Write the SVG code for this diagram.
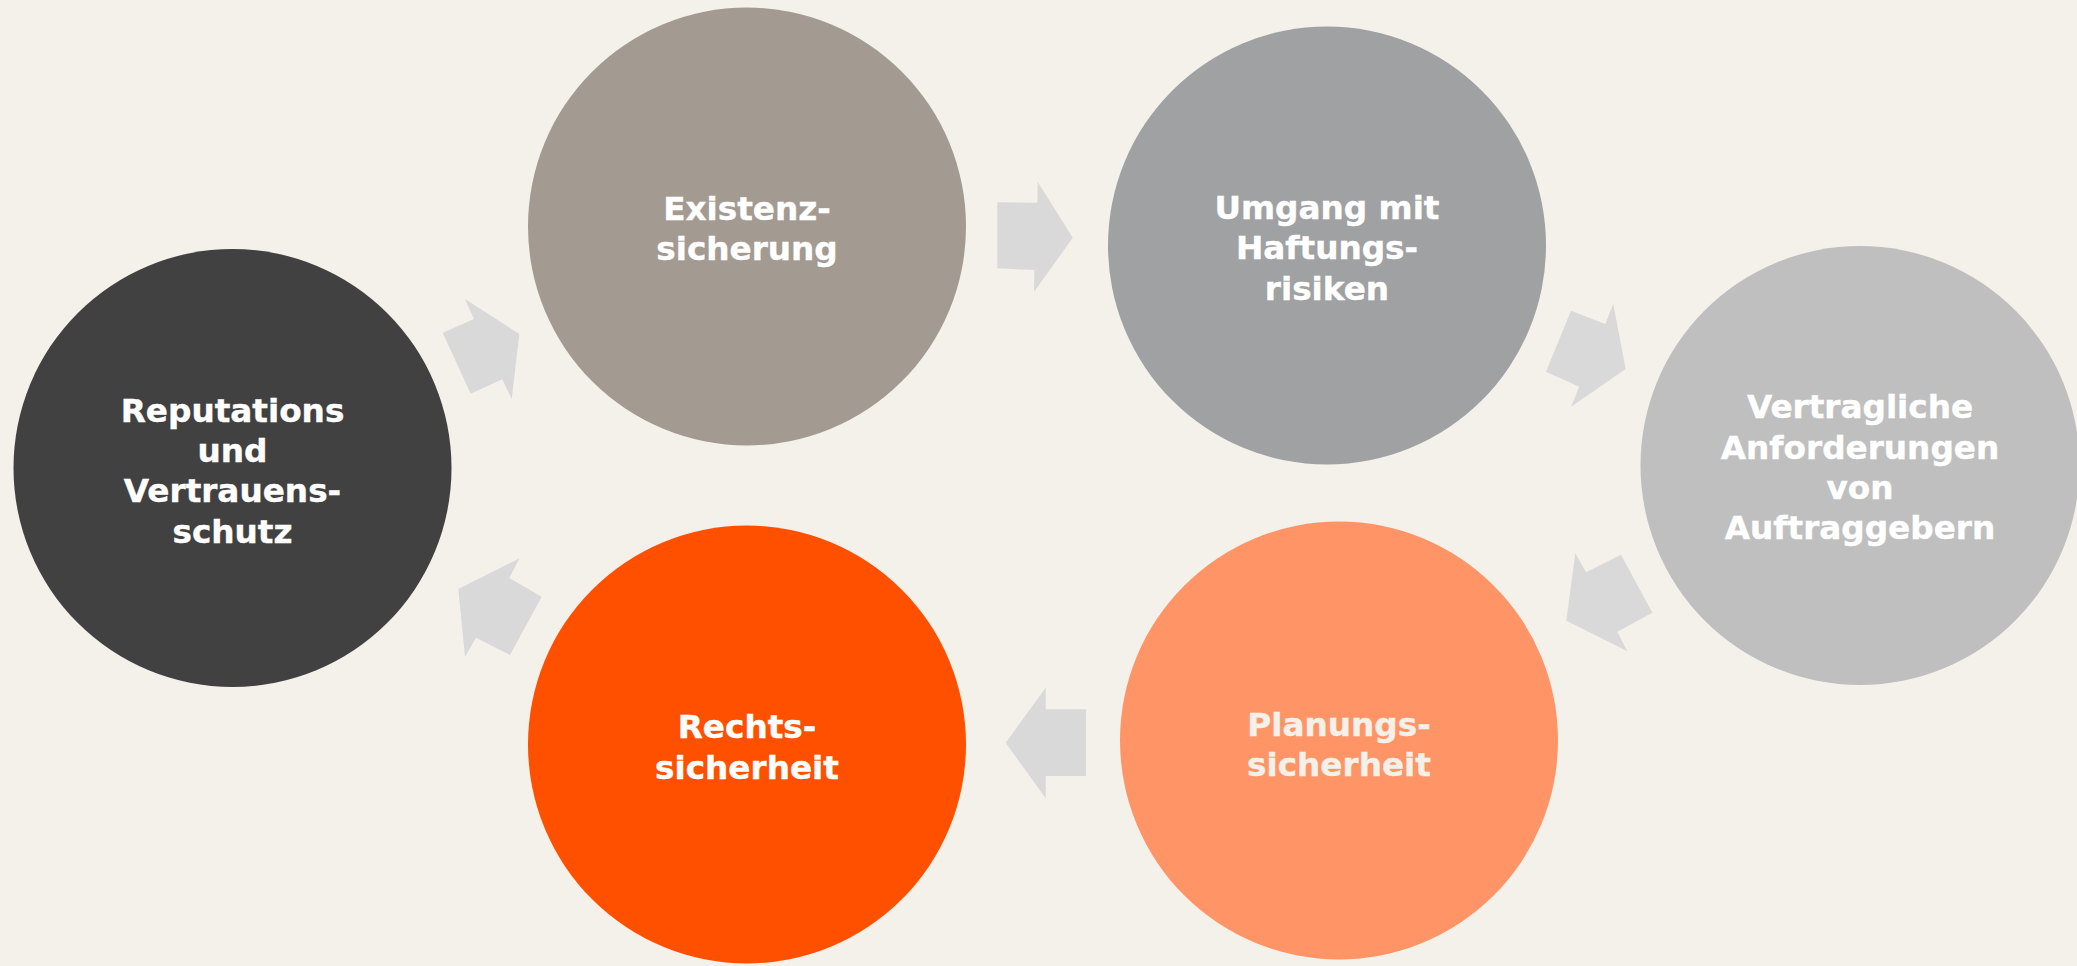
<svg xmlns="http://www.w3.org/2000/svg" width="2077" height="966" viewBox="0 0 2077 966">
<style>
.lbl{font-family:"DejaVu Sans","Verdana",sans-serif;font-weight:bold;font-size:32.7px;text-anchor:middle;fill:#FFFFFF;stroke:#FFFFFF;stroke-width:0.4}
.cream{fill:#F4F1EB;stroke:#F4F1EB}
.arr{fill:#D9D9D9}
</style>
<rect x="0" y="0" width="2077" height="966" fill="#F4F1EB"/>
<g id="connectors">
<polygon class="arr" points="442.7,332.7 474,319 465,299 519.3,334 511.7,399 502.3,379.3 470.7,393.7"/>
<polygon class="arr" points="997.3,202.3 1037.3,202.7 1037.7,181.7 1072.7,237.7 1034,292 1034.3,270 997.3,268.3"/>
<polygon class="arr" points="1571,310.7 1605.3,324 1613.3,304 1625.7,369 1571,406.7 1579.3,386.7 1546,371.7"/>
<polygon class="arr" points="1621,554.7 1652.3,612.7 1617.3,631.7 1627.3,651.3 1566.3,620.7 1575.3,553.3 1586,572.3"/>
<polygon class="arr" points="1086,709.3 1086,776 1045.7,776 1045.7,798.3 1005.7,742.7 1045.7,687.7 1045.7,709.3"/>
<polygon class="arr" points="458.3,589 465,656.7 476,637.7 510,655 541.7,596.7 509.3,578 519.3,558.4"/>
</g>
<g id="node-reputation">
<circle cx="232.5" cy="468" r="219" fill="#414141"/>
<text class="lbl" x="232.5" y="421.7">Reputations</text>
<text class="lbl" x="232.5" y="461.7">und</text>
<text class="lbl" x="232.5" y="501.7">Vertrauens-</text>
<text class="lbl" x="232.5" y="542.5">schutz</text>
</g>
<g id="node-existenz">
<circle cx="747" cy="226.5" r="219" fill="#A39A91"/>
<text class="lbl" x="747" y="220">Existenz-</text>
<text class="lbl" x="747" y="260">sicherung</text>
</g>
<g id="node-umgang">
<circle cx="1327" cy="245.5" r="219" fill="#A0A1A3"/>
<text class="lbl" x="1327" y="219">Umgang mit</text>
<text class="lbl" x="1327" y="259">Haftungs-</text>
<text class="lbl" x="1327" y="299.5">risiken</text>
</g>
<g id="node-vertragliche">
<circle cx="1860" cy="465.5" r="219.5" fill="#BFBFBF"/>
<text class="lbl" x="1860" y="418.3">Vertragliche</text>
<text class="lbl" x="1860" y="459.3">Anforderungen</text>
<text class="lbl" x="1860" y="499.3">von</text>
<text class="lbl" x="1860" y="539.3">Auftraggebern</text>
</g>
<g id="node-planungs">
<circle cx="1339" cy="740.5" r="219" fill="#FF9566"/>
<text class="lbl cream" x="1339" y="735.7">Planungs-</text>
<text class="lbl cream" x="1339" y="775.7">sicherheit</text>
</g>
<g id="node-rechts">
<circle cx="747" cy="744.5" r="219" fill="#FF5000"/>
<text class="lbl" x="747" y="738.3">Rechts-</text>
<text class="lbl" x="747" y="779">sicherheit</text>
</g>
</svg>
